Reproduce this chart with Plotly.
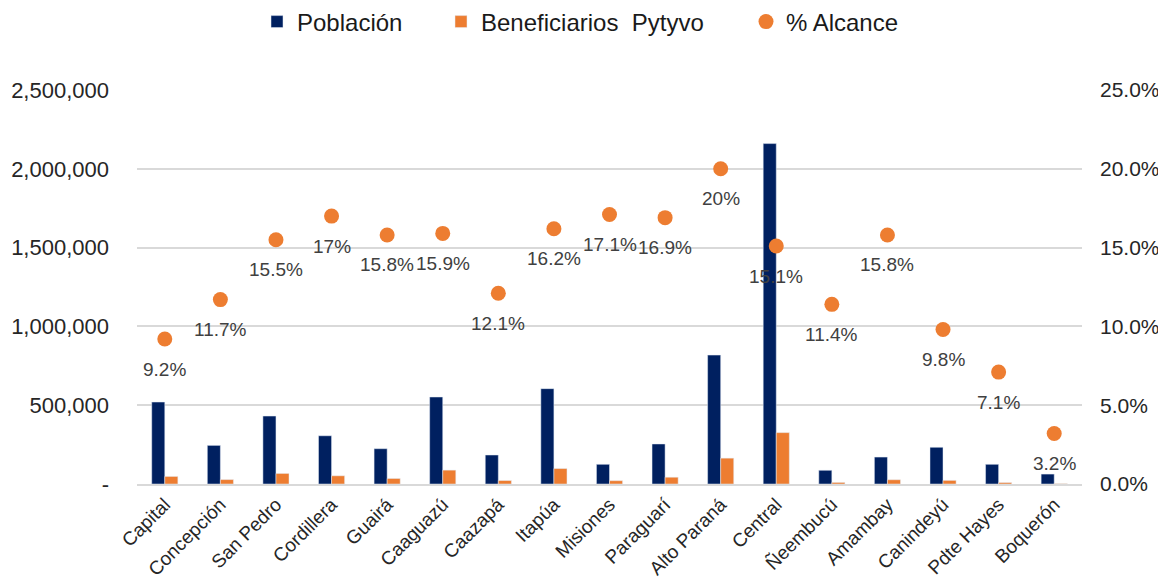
import plotly.graph_objects as go

# Datos por departamento
departamentos = ['Capital', 'Concepción', 'San Pedro', 'Cordillera', 'Guairá', 'Caaguazú',
                 'Caazapá', 'Itapúa', 'Misiones', 'Paraguarí', 'Alto Paraná', 'Central',
                 'Ñeembucú', 'Amambay', 'Canindeyú', 'Pdte Hayes', 'Boquerón']
poblacion = [520000, 245000, 431000, 306000, 224000, 552000, 184000, 605000, 125000,
             254000, 818000, 2160000, 87000, 171000, 233000, 125000, 63000]
beneficiarios = [48000, 28000, 67000, 52000, 35000, 88000, 22000, 98000, 21000,
                 43000, 164000, 326000, 10000, 27000, 23000, 9000, 2000]
alcance = [9.2, 11.7, 15.5, 17.0, 15.8, 15.9, 12.1, 16.2, 17.1, 16.9, 20.0, 15.1,
           11.4, 15.8, 9.8, 7.1, 3.2]

left_ticks = [0, 500000, 1000000, 1500000, 2000000, 2500000]
left_labels = ['-', '500,000', '1,000,000', '1,500,000', '2,000,000', '2,500,000']
right_ticks = [0, 5, 10, 15, 20, 25]
right_labels = ['0.0%', '5.0%', '10.0%', '15.0%', '20.0%', '25.0%']

AZUL = '#002060'
NARANJA = '#ED7D31'
FONT = 'Liberation Sans, Arial, sans-serif'
# la pagina tiene 8px de margen en el body, se descuenta del tamaño
W, H = 1158, 573

fig = go.Figure()
fig.add_trace(go.Bar(x=departamentos, y=poblacion, name='Población',
                     marker_color=AZUL, legend='legend'))
fig.add_trace(go.Bar(x=departamentos, y=beneficiarios, name='Beneficiarios\u00a0 Pytyvo',
                     marker_color=NARANJA, legend='legend2'))
fig.add_trace(go.Scatter(x=departamentos, y=alcance, name='% Alcance', mode='markers',
                         marker=dict(color=NARANJA, size=15), yaxis='y2', legend='legend3'))

# Etiquetas de % debajo de cada punto
for d, v in zip(departamentos, alcance):
    fig.add_annotation(x=d, y=v, yref='y2', text=f'{v:g}%', showarrow=False,
                       yshift=-30, font=dict(size=19, color='#404040', family=FONT))

leg = dict(orientation='h', yref='container', y=1 - 14 / H, yanchor='middle',
           xref='container', xanchor='left', font=dict(size=24, color='#1a1a1a'),
           bgcolor='rgba(0,0,0,0)')

fig.update_layout(
    width=W, height=H,
    margin=dict(l=129, r=84, t=82, b=97, autoexpand=False),
    paper_bgcolor='white', plot_bgcolor='white',
    font=dict(family=FONT, color='#262626'),
    barmode='group', bargap=0.53, bargroupgap=0,
    showlegend=True,
    legend=dict(leg, x=249 / W),
    legend2=dict(leg, x=433 / W),
    legend3=dict(leg, x=738 / W),
    xaxis=dict(range=[-0.5, len(departamentos) - 0.5], tickangle=-45,
               tickfont=dict(size=19, color='#262626'),
               showline=True, linecolor='#d9d9d9', linewidth=2, ticks='',
               automargin=False),
    yaxis=dict(range=[0, 2500000], tickvals=left_ticks, ticktext=left_labels,
               tickfont=dict(size=22, color='#262626'), showgrid=True,
               gridcolor='#d9d9d9', gridwidth=2, zeroline=False, ticks='',
               ticklabelstandoff=27, automargin=False),
    yaxis2=dict(range=[0, 25], tickvals=right_ticks, ticktext=right_labels,
                overlaying='y', side='right', showgrid=False, zeroline=False,
                tickfont=dict(size=21, color='#262626'), ticks='',
                ticklabelstandoff=17, automargin=False),
)

fig.write_html('out.html')
